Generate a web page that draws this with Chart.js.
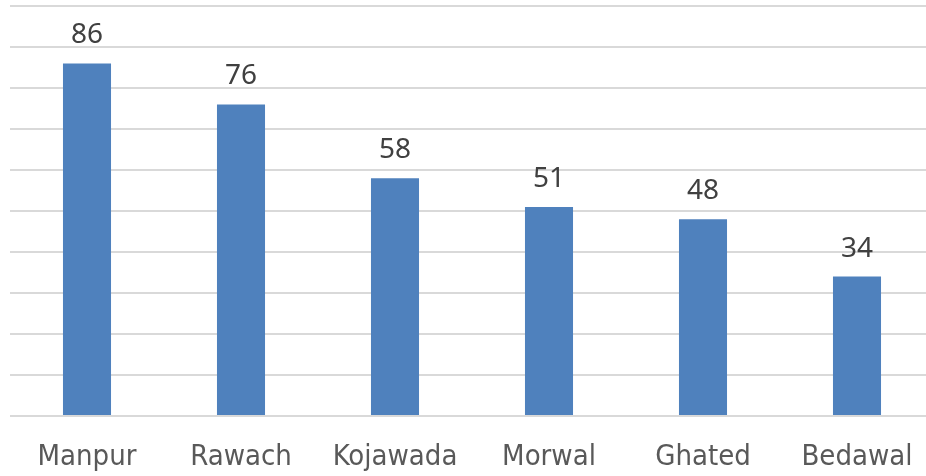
<!DOCTYPE html>
<html>
<head>
<meta charset="utf-8">
<script src="https://cdn.jsdelivr.net/npm/chart.js@4"></script>
<style>
  html, body { margin: 0; padding: 0; background: #fff; overflow: hidden; }
  #wrap { width: 940px; height: 476px; }
</style>
</head>
<body>
<div id="wrap"><canvas id="myChart" width="940" height="476"></canvas></div>
<script>
const villages = ["Manpur", "Rawach", "Kojawada", "Morwal", "Ghated", "Bedawal"];
const counts = [86, 76, 58, 51, 48, 34];

// labels on top of the bars
const valueLabels = {
  id: "valueLabels",
  afterDatasetsDraw(chart) {
    const ctx = chart.ctx;
    const meta = chart.getDatasetMeta(0);
    ctx.save();
    ctx.font = "28px 'Noto Sans'";
    ctx.fillStyle = "#404040";
    ctx.textAlign = "center";
    ctx.textBaseline = "alphabetic";
    meta.data.forEach((bar, i) => {
      ctx.fillText(counts[i], bar.x, bar.y - 20);
    });
    ctx.restore();
  },
};

const ctx = document.getElementById("myChart").getContext("2d");
const myChart = new Chart(ctx, {
  type: "bar",
  data: {
    labels: villages,
    datasets: [
      {
        data: counts,
        backgroundColor: "#4f81bd",
        borderWidth: 0,
        barPercentage: 0.312,
        categoryPercentage: 1,
      },
    ],
  },
  options: {
    responsive: false,
    animation: false,
    layout: { padding: { top: 6, left: 10, right: 6, bottom: 0 } },
    plugins: {
      legend: { display: false },
      tooltip: { enabled: false },
    },
    scales: {
      x: {
        grid: { display: false, drawTicks: false },
        border: { display: false },
        ticks: {
          padding: 24,
          color: "#595959",
          font: { family: "'DejaVu Sans Condensed', 'DejaVu Sans'", size: 29, weight: "normal" },
          maxRotation: 0,
          autoSkip: false,
        },
        afterFit: (scale) => { scale.height = 60; },
      },
      y: {
        min: 0,
        max: 100,
        ticks: { display: false, stepSize: 10 },
        grid: { color: "#d9d9d9", lineWidth: 2, drawTicks: false },
        border: { display: false },
        afterFit: (scale) => { scale.width = 0; },
      },
    },
  },
  plugins: [valueLabels],
});
</script>
</body>
</html>
